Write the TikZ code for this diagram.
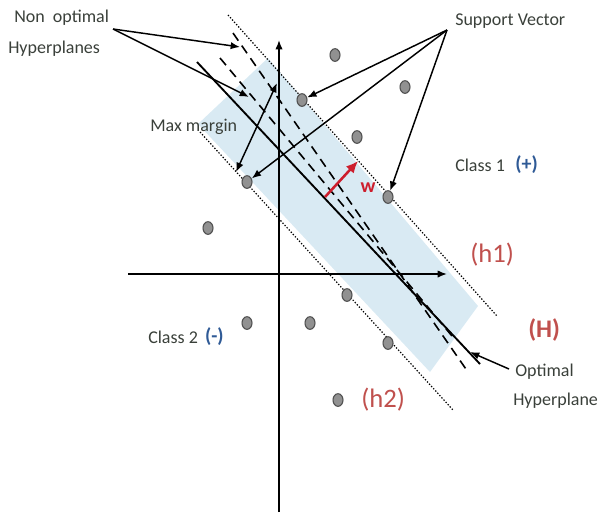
\documentclass[tikz,border=0pt]{standalone}
\usepackage{fontspec}
\setmainfont{Carlito}
\usetikzlibrary{positioning,arrows.meta,shapes.geometric}

\definecolor{bandblue}{RGB}{217,234,243}
\definecolor{txtgray}{RGB}{58,64,58}
\definecolor{hred}{RGB}{192,80,77}
\definecolor{wred}{RGB}{205,30,45}
\definecolor{clsblue}{RGB}{47,90,150}
\definecolor{dotgray}{RGB}{145,145,145}

\begin{document}
\begin{tikzpicture}[x=0.75pt,y=-0.75pt,>={Latex[length=7pt,width=5.5pt]},
		pt/.style={ellipse,inner sep=0pt,minimum width=7.5pt,minimum height=9.5pt,fill=dotgray,draw=dotgray!55!black,line width=0.8pt},
		lbl/.style={text=txtgray,font=\fontsize{13.5}{16}\selectfont,inner sep=0pt},
		redlbl/.style={text=hred,font=\fontsize{20}{24}\selectfont,inner sep=0pt},
		bluelbl/.style={text=clsblue,font=\fontsize{15}{18}\selectfont\bfseries,inner sep=0pt},
		axis/.style={line width=1.1pt,->},
		pointer/.style={line width=1.1pt,->},
		nonopt/.style={line width=1.2pt,dash pattern=on 7pt off 4.5pt},
		margin/.style={line width=0.9pt,dash pattern=on 1pt off 1.3pt}]
		
		\useasboundingbox (0,0) rectangle (602,512);
		
		% Band (max margin)
		\fill[bandblue] (198,124) -- (268,58) -- (478,306) -- (430,372) -- cycle;
		
		% Margin lines h1 and h2
		\coordinate (h1top) at (228,15);
		\coordinate (h1bot) at (497,316);
		\coordinate (h2top) at (200,132);
		\coordinate (h2bot) at (453,410);
		\draw[margin] (h1top) -- (h1bot);
		\draw[margin] (h2top) -- (h2bot);
		
		% Non optimal hyperplanes
		\coordinate (d1top) at (233,33);
		\coordinate (d1bot) at (468,372);
		\coordinate (d2top) at (220,58);
		\coordinate (d2bot) at (452,336);
		\draw[nonopt] (d1top) -- (d1bot);
		\draw[nonopt] (d2top) -- (d2bot);
		
		% Optimal hyperplane H
		\coordinate (Htop) at (197,62);
		\coordinate (Hbot) at (480,364);
		\draw[line width=1.4pt] (Htop) -- (Hbot);
		
		% Axes
		\coordinate (xstart) at (128,274);
		\coordinate (xend) at (447,274);
		\coordinate (ystart) at (279,512);
		\coordinate (yend) at (279,40);
		\draw[axis] (xstart) -- (xend);
		\draw[axis] (ystart) -- (yend);
		
		% Data points
		\node[pt] (sv1) at (302,100) {};
		\node[pt] (sv2) at (247,182) {};
		\node[pt] (sv3) at (388,197) {};
		\node[pt] (sv4) at (347,295) {};
		\node[pt] (sv5) at (388,343) {};
		\node[pt] (p1) at (335,55) {};
		\node[pt] (p2) at (405,87) {};
		\node[pt] (p3) at (357,137) {};
		\node[pt] (p4) at (208,228) {};
		\node[pt] (p5) at (247,323) {};
		\node[pt] (p6) at (310,323) {};
		\node[pt] (p7) at (338,400) {};
		
		% Normal vector w
		\coordinate (wbase) at (325,197);
		\coordinate (wtip) at (358,161);
		\draw[-{Latex[length=9pt,width=8pt]},wred,line width=1.9pt] (wbase) -- (wtip);
		\node[text=wred,font=\fontsize{15}{17}\selectfont\bfseries,inner sep=0pt] (w) at (368,188) {w};
		
		% Non optimal
		\node[lbl,anchor=west] (nonoptlbl) at (14,18) {Non\ \ optimal};
		\node[lbl,anchor=west] (hyplbl) at (8,49) {Hyperplanes};
		\coordinate (nonoptsrc) at (113,29);
		\coordinate (d1mark) at (240,47);
		\coordinate (d2mark) at (249,97);
		\draw[pointer] (nonoptsrc) -- (d1mark);
		\draw[pointer] (nonoptsrc) -- (d2mark);
		
		% Support vectors
		\node[lbl,anchor=west] (svlbl) at (455,21) {Support Vector};
		\coordinate (svsrc) at (447,30);
		\draw[pointer] (svsrc) -- (sv1);
		\draw[pointer] (svsrc) -- (sv2);
		\draw[pointer] (svsrc) -- (sv3);
		
		% Max margin
		\node[lbl,anchor=west] (mmlbl) at (150,127) {Max margin};
		\coordinate (mmtop) at (277,83);
		\coordinate (mmbot) at (236,172);
		\draw[pointer,<->] (mmbot) -- (mmtop);
		
		% Classes
		\node[lbl,anchor=west] (cls1) at (455,165) {Class 1};
		\node[bluelbl,right=7.5pt of cls1] (cls1sign) {(+)};
		\node[lbl,anchor=west] (cls2) at (148,337) {Class 2};
		\node[bluelbl,right=5pt of cls2] (cls2sign) {(-)};
		
		% Hyperplane labels
		\node[redlbl,anchor=west] (h1lbl) at (470,255) {(h1)};
		\node[redlbl,anchor=west] (h2lbl) at (361,400) {(h2)};
		\node[redlbl,font=\fontsize{19}{22}\selectfont\bfseries,anchor=west] (Hlbl) at (528,330) {(H)};
		
		% Optimal hyperplane
		\node[lbl,anchor=west] (optlbl) at (515,372) {Optimal};
		\node[lbl,anchor=west] (hyp2lbl) at (513,401) {Hyperplane};
		\coordinate (optsrc) at (509,369);
		\coordinate (Hmark) at (470,352);
		\draw[pointer] (optsrc) -- (Hmark);
		
	\end{tikzpicture}
\end{document}
